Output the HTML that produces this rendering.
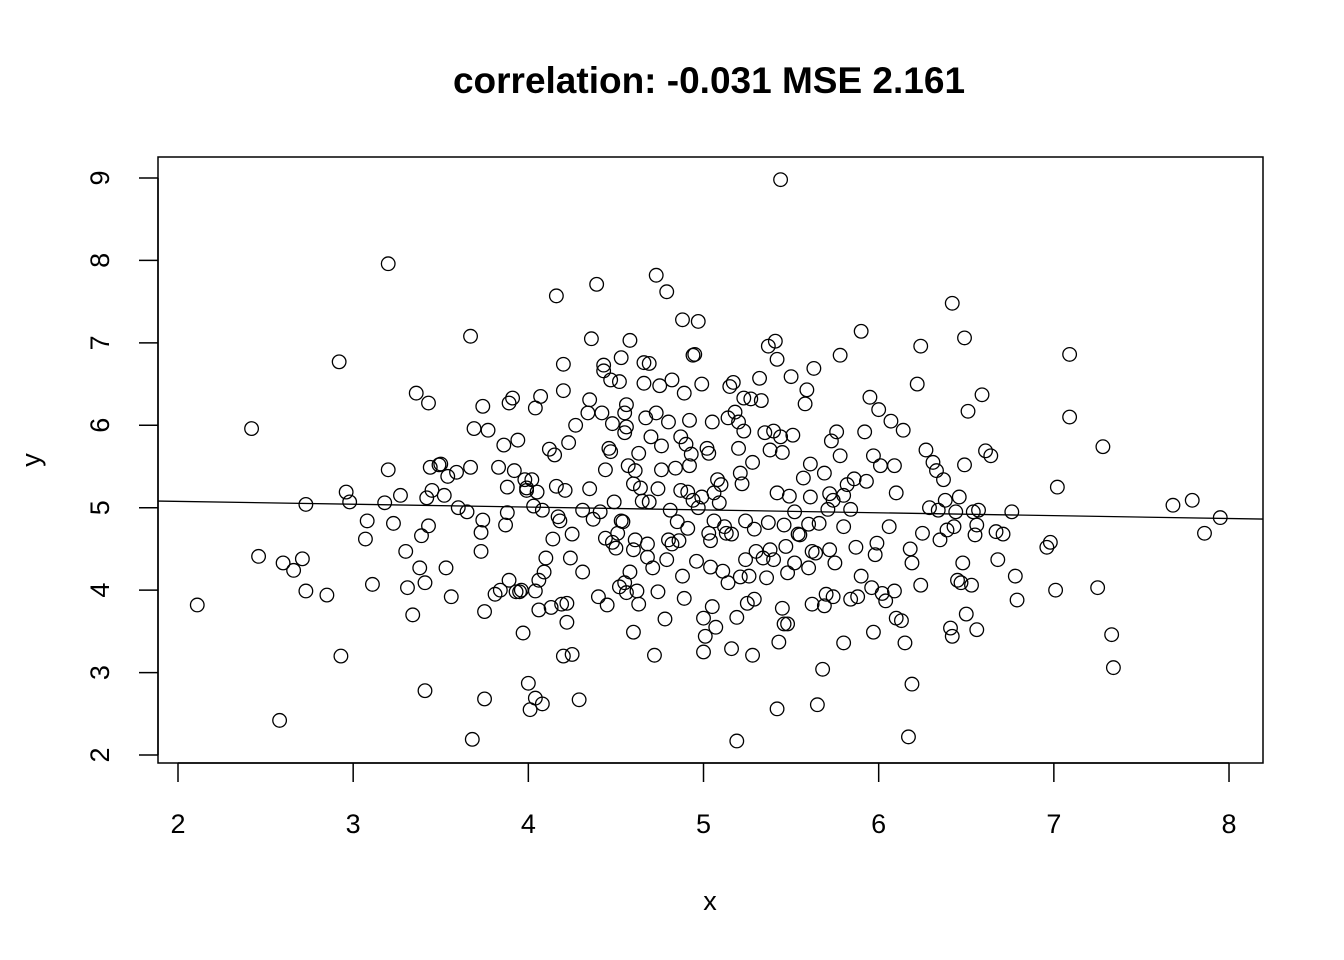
<!DOCTYPE html>
<html><head><meta charset="utf-8"><style>
html,body{margin:0;padding:0;background:#fff;}
svg{display:block;font-family:"Liberation Sans",Arial,sans-serif;}
</style></head><body>
<svg id="chart" width="1344" height="960" viewBox="0 0 1344 960" xmlns="http://www.w3.org/2000/svg">
<text x="709" y="93" text-anchor="middle" font-size="37" font-weight="bold">correlation: -0.031 MSE 2.161</text>
<text x="710" y="910" text-anchor="middle" font-size="27">x</text>
<text x="40" y="460" text-anchor="middle" font-size="27" transform="rotate(-90 40 460)">y</text>
<rect x="158" y="157" width="1105" height="606" fill="none" stroke="#000" stroke-width="1.5"/>
<g id="marks"></g>
<g id="axes"></g>
</svg>
<script>
const xTicks = [2,3,4,5,6,7,8];
const yTicks = [2,3,4,5,6,7,8,9];
const fitIntercept = 5.146;
const fitSlope = -0.0346;
const xs = [2.11,2.42,2.46,2.58,2.60,2.66,2.71,2.73,2.73,2.85,2.92,2.93,2.96,2.98,3.07,3.08,3.11,3.18,3.20,3.20,3.23,3.27,3.30,3.31,3.34,3.36,3.38,3.39,3.41,3.41,3.42,3.43,3.43,3.44,3.45,3.49,3.50,3.53,3.52,3.54,3.56,3.59,3.60,3.65,3.67,3.67,3.68,3.69,3.73,3.73,3.74,3.74,3.75,3.75,3.77,3.81,3.83,3.84,3.86,3.87,3.88,3.88,3.89,3.89,3.91,3.92,3.93,3.94,3.95,3.96,3.97,3.98,3.99,3.99,4.00,4.01,4.02,4.03,4.04,4.04,4.04,4.05,4.06,4.06,4.07,4.08,4.08,4.09,4.10,4.12,4.13,4.14,4.15,4.16,4.16,4.17,4.18,4.19,4.20,4.20,4.20,4.21,4.22,4.22,4.23,4.24,4.25,4.25,4.27,4.29,4.31,4.31,4.34,4.35,4.35,4.36,4.37,4.39,4.40,4.41,4.42,4.43,4.43,4.44,4.44,4.45,4.46,4.47,4.47,4.48,4.48,4.49,4.50,4.51,4.52,4.52,4.53,4.53,4.54,4.55,4.55,4.55,4.56,4.56,4.56,4.57,4.58,4.58,4.60,4.60,4.60,4.61,4.61,4.62,4.63,4.63,4.64,4.65,4.66,4.66,4.67,4.68,4.68,4.69,4.69,4.70,4.72,4.71,4.73,4.73,4.74,4.74,4.75,4.76,4.76,4.78,4.79,4.79,4.80,4.80,4.81,4.82,4.82,4.84,4.85,4.86,4.87,4.87,4.88,4.88,4.89,4.89,4.90,4.91,4.91,4.92,4.92,4.93,4.94,4.94,4.95,4.96,4.97,4.97,4.99,4.99,5.00,5.00,5.01,5.02,5.03,5.03,5.04,5.04,5.05,5.05,5.06,5.06,5.07,5.08,5.09,5.10,5.11,5.12,5.13,5.14,5.14,5.15,5.16,5.16,5.17,5.18,5.19,5.19,5.20,5.20,5.21,5.21,5.22,5.23,5.23,5.24,5.24,5.25,5.26,5.27,5.28,5.28,5.29,5.29,5.30,5.32,5.33,5.34,5.35,5.36,5.37,5.37,5.38,5.38,5.40,5.40,5.41,5.42,5.42,5.42,5.43,5.44,5.44,5.45,5.45,5.46,5.46,5.47,5.48,5.48,5.49,5.50,5.51,5.52,5.52,5.54,5.55,5.57,5.58,5.59,5.60,5.60,5.61,5.61,5.62,5.62,5.63,5.64,5.65,5.66,5.68,5.69,5.69,5.70,5.71,5.72,5.72,5.73,5.74,5.74,5.75,5.76,5.78,5.78,5.80,5.80,5.80,5.82,5.84,5.84,5.86,5.87,5.88,5.90,5.90,5.92,5.93,5.95,5.96,5.97,5.97,5.98,5.99,6.00,6.01,6.02,6.04,6.06,6.07,6.09,6.09,6.10,6.10,6.13,6.14,6.15,6.17,6.18,6.19,6.19,6.22,6.24,6.24,6.25,6.27,6.29,6.31,6.33,6.34,6.35,6.37,6.38,6.39,6.41,6.42,6.42,6.43,6.44,6.45,6.46,6.47,6.48,6.49,6.49,6.50,6.51,6.53,6.54,6.55,6.56,6.56,6.57,6.59,6.61,6.64,6.67,6.68,6.71,6.76,6.78,6.79,6.96,6.98,7.01,7.02,7.09,7.09,7.25,7.28,7.33,7.34,7.68,7.79,7.86,7.95];
const ys = [3.82,5.96,4.41,2.42,4.33,4.24,4.38,3.99,5.04,3.94,6.77,3.20,5.19,5.07,4.62,4.84,4.07,5.06,7.96,5.46,4.81,5.15,4.47,4.03,3.70,6.39,4.27,4.66,4.09,2.78,5.12,4.78,6.27,5.49,5.21,5.52,5.53,4.27,5.15,5.38,3.92,5.43,5.00,4.95,7.08,5.49,2.19,5.96,4.70,4.47,6.23,4.85,3.74,2.68,5.94,3.95,5.49,4.00,5.76,4.79,4.94,5.25,6.27,4.12,6.33,5.45,3.98,5.82,3.98,4.00,3.48,5.34,5.21,5.24,2.87,2.55,5.34,5.02,3.99,6.21,2.69,5.19,3.76,4.12,6.35,2.62,4.97,4.22,4.39,5.71,3.79,4.62,5.64,7.57,5.26,4.89,4.84,3.83,3.20,6.42,6.74,5.21,3.84,3.61,5.79,4.39,4.68,3.22,6.00,2.67,4.22,4.97,6.15,5.23,6.31,7.05,4.86,7.71,3.92,4.95,6.15,6.73,6.66,5.46,4.63,3.82,5.72,6.55,5.68,6.02,4.58,5.07,4.51,4.69,6.53,4.04,4.84,6.82,4.83,6.15,4.09,5.91,5.98,3.97,6.25,5.51,7.03,4.22,4.49,3.49,5.29,4.61,5.45,3.99,3.83,5.66,5.24,5.08,6.76,6.51,6.09,4.40,4.56,5.07,6.75,5.86,3.21,4.27,7.82,6.15,5.23,3.98,6.48,5.75,5.46,3.65,4.37,7.62,4.61,6.04,4.97,4.56,6.55,5.48,4.83,4.60,5.21,5.86,7.28,4.17,3.90,6.39,5.77,4.75,5.19,5.51,6.06,5.65,6.85,5.09,6.86,4.35,7.26,5.00,5.13,6.50,3.25,3.66,3.44,5.72,4.69,5.66,4.60,4.28,3.80,6.04,5.18,4.84,3.55,5.34,5.06,5.28,4.23,4.77,4.69,6.09,4.09,6.47,3.29,4.68,6.52,6.16,3.67,2.17,5.72,6.04,5.42,4.16,5.29,6.33,5.93,4.84,4.37,3.84,4.17,6.32,3.21,5.55,3.89,4.74,4.47,6.57,6.30,4.39,5.91,4.15,6.96,4.82,5.70,4.49,5.93,4.37,7.02,5.18,6.80,2.56,3.37,5.86,8.98,3.78,5.67,3.59,4.79,4.53,4.21,3.59,5.14,6.59,5.88,4.95,4.33,4.68,4.67,5.36,6.26,6.43,4.27,4.80,5.13,5.53,4.47,3.83,6.69,4.45,2.61,4.81,3.04,3.81,5.42,3.95,4.98,4.49,5.17,5.81,5.09,3.92,4.33,5.92,5.63,6.85,5.15,3.36,4.77,5.28,3.89,4.98,5.35,4.52,3.92,7.14,4.17,5.92,5.32,6.34,4.03,3.49,5.63,4.43,4.57,6.19,5.51,3.96,3.87,4.77,6.05,3.99,5.51,5.18,3.66,3.63,5.94,3.36,2.22,4.50,4.33,2.86,6.50,6.96,4.06,4.69,5.70,5.00,5.55,5.45,4.97,4.61,5.34,5.09,4.73,3.54,7.48,3.44,4.77,4.95,4.12,5.13,4.09,4.33,7.06,5.52,3.71,6.17,4.06,4.95,4.67,3.52,4.79,4.97,6.37,5.69,5.63,4.71,4.37,4.68,4.95,4.17,3.88,4.52,4.58,4.00,5.25,6.86,6.10,4.03,5.74,3.46,3.06,5.03,5.09,4.69,4.88];

const NS = "http://www.w3.org/2000/svg";
function sx(v){ return 178 + (v - 2) * 175.17; }
function sy(v){ return 755 - (v - 2) * 82.43; }
const marks = document.getElementById('marks');
const axes = document.getElementById('axes');

for (let i = 0; i < xs.length; i++) {
  const c = document.createElementNS(NS, 'circle');
  c.setAttribute('cx', sx(xs[i]));
  c.setAttribute('cy', sy(ys[i]));
  c.setAttribute('r', 6.8);
  c.setAttribute('fill', 'none');
  c.setAttribute('stroke', '#000');
  c.setAttribute('stroke-width', '1.3');
  
  
  marks.appendChild(c);
}

const x0 = (158 - 178) / 175.17 + 2, x1 = (1263 - 178) / 175.17 + 2;
const fit = document.createElementNS(NS, 'line');
fit.setAttribute('x1', sx(x0)); fit.setAttribute('y1', sy(fitIntercept + fitSlope * x0));
fit.setAttribute('x2', sx(x1)); fit.setAttribute('y2', sy(fitIntercept + fitSlope * x1));
fit.setAttribute('stroke', '#000'); fit.setAttribute('stroke-width', '1.3');


marks.appendChild(fit);

const xa = document.createElementNS(NS, 'line');
xa.setAttribute('x1', sx(xTicks[0])); xa.setAttribute('x2', sx(xTicks[xTicks.length-1]));
xa.setAttribute('y1', 763); xa.setAttribute('y2', 763); xa.setAttribute('stroke', '#000'); xa.setAttribute('stroke-width', '1.5');


axes.appendChild(xa);
xTicks.forEach(t => {
  const l = document.createElementNS(NS, 'line');
  l.setAttribute('x1', sx(t)); l.setAttribute('x2', sx(t)); l.setAttribute('y1', 763); l.setAttribute('y2', 782);
  l.setAttribute('stroke', '#000'); l.setAttribute('stroke-width', '1.5');
  
  
  axes.appendChild(l);
  const tx = document.createElementNS(NS, 'text');
  tx.setAttribute('x', sx(t)); tx.setAttribute('y', 833); tx.setAttribute('text-anchor', 'middle'); tx.setAttribute('font-size', '27');
  tx.textContent = t;
  
  
  axes.appendChild(tx);
});

const ya = document.createElementNS(NS, 'line');
ya.setAttribute('y1', sy(yTicks[0])); ya.setAttribute('y2', sy(yTicks[yTicks.length-1]));
ya.setAttribute('x1', 158); ya.setAttribute('x2', 158); ya.setAttribute('stroke', '#000'); ya.setAttribute('stroke-width', '1.5');


axes.appendChild(ya);
yTicks.forEach(t => {
  const l = document.createElementNS(NS, 'line');
  l.setAttribute('y1', sy(t)); l.setAttribute('y2', sy(t)); l.setAttribute('x1', 139); l.setAttribute('x2', 158);
  l.setAttribute('stroke', '#000'); l.setAttribute('stroke-width', '1.5');
  
  
  axes.appendChild(l);
  const tx = document.createElementNS(NS, 'text');
  tx.setAttribute('x', 109); tx.setAttribute('y', sy(t)); tx.setAttribute('text-anchor', 'middle'); tx.setAttribute('font-size', '27');
  tx.setAttribute('transform', 'rotate(-90 109 ' + sy(t) + ')');
  tx.textContent = t;
  
  
  axes.appendChild(tx);
});
</script>
</body></html>
